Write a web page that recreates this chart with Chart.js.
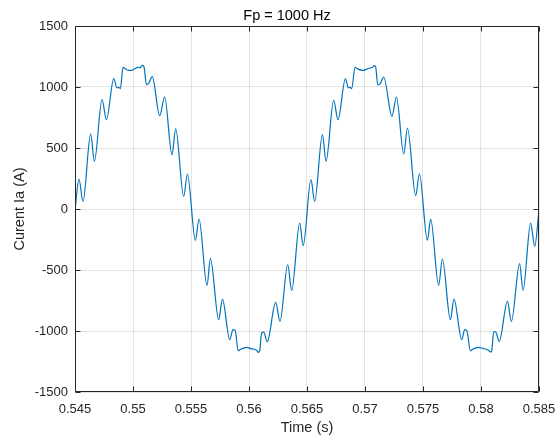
<!DOCTYPE html>
<html>
<head>
<meta charset="utf-8">
<script src="https://cdn.jsdelivr.net/npm/chart.js@4"></script>
<style>
  html, body { margin: 0; padding: 0; background: #fff; }
  #wrap { width: 556px; height: 438px; }
</style>
</head>
<body>
<div id="wrap"><canvas id="chart" width="556" height="438"></canvas></div>
<script>
// values
var timeS = [
    0.54500, 0.54534, 0.54569, 0.54635, 0.54667, 0.54733, 0.54771, 0.54834,
    0.54862, 0.54877, 0.54891,
    0.54914, 0.54934, 0.54957, 0.54986, 0.55015, 0.55043, 0.55060, 0.55081, 0.55095,
    0.55116, 0.55135, 0.55166,
    0.55230, 0.55273, 0.55336, 0.55368, 0.55437, 0.55469, 0.55538, 0.55569, 0.55638, 0.55667, 0.55739, 0.55771, 0.55834,
    0.55862, 0.55881,
    0.55907, 0.55928, 0.55954, 0.55984, 0.56015, 0.56045, 0.56066, 0.56081, 0.56092,
    0.56109, 0.56127, 0.56157,
    0.56230, 0.56267, 0.56334, 0.56368, 0.56437, 0.56467,
    0.56534, 0.56566, 0.56633, 0.56664, 0.56730, 0.56767, 0.56831,
    0.56857, 0.56871, 0.56885, 0.56914, 0.56934, 0.56957, 0.56986, 0.57015, 0.57043, 0.57062, 0.57081, 0.57092,
    0.57110, 0.57131, 0.57161,
    0.57233, 0.57271, 0.57334, 0.57366, 0.57437, 0.57469, 0.57538, 0.57566, 0.57635, 0.57667, 0.57736, 0.57767, 0.57834,
    0.57860, 0.57877, 0.57909, 0.57928, 0.57954, 0.57984, 0.58015, 0.58045, 0.58066, 0.58081, 0.58092,
    0.58110, 0.58127, 0.58157,
    0.58228, 0.58262, 0.58333, 0.58362, 0.58428, 0.58463, 0.58500
];

var currentA = [
    -10, 246, 62, 615, 390, 896, 732, 1068,
    992, 998, 986,
    1161, 1150, 1136, 1136, 1150, 1161, 1158, 1177, 1165,
    1020, 1030, 1085,
    765, 918, 445, 656, 103, 287, -257, -82, -626, -405, -908, -738, -1071,
    -989, -995,
    -1162, -1150, -1140, -1135, -1145, -1150, -1160, -1175, -1165,
    -1016, -1010, -1088,
    -766, -921, -457, -667, -115, -300,
    240, 62, 609, 390, 890, 732, 1066,
    992, 998, 986, 1161, 1150, 1140, 1136, 1147, 1156, 1160, 1175, 1165,
    1018, 1028, 1082,
    759, 918, 451, 664, 109, 289, -257, -82, -626, -410, -908, -738, -1071,
    -989, -995, -1162, -1150, -1140, -1135, -1143, -1150, -1160, -1172, -1165,
    -1005, -1008, -1085,
    -757, -921, -448, -667, -115, -306, -10
];

var xTicks = [0.545, 0.55, 0.555, 0.56, 0.565, 0.57, 0.575, 0.58, 0.585];
var xTickLabels = ['0.545', '0.55', '0.555', '0.56', '0.565', '0.57', '0.575', '0.58', '0.585'];
var yTicks = [-1500, -1000, -500, 0, 500, 1000, 1500];
var yTickLabels = ['-1500', '-1000', '-500', '0', '500', '1000', '1500'];

var titleText = 'Fp = 1000 Hz';
var xTitle = 'Time (s)';
var yTitle = 'Curent Ia (A)';

var axisColor = '#262626';
var FONT = '"Liberation Sans", Arial, Helvetica, sans-serif';

// MATLAB-like box with inward ticks, plus the title
var boxPlugin = {
    id: 'matlabBox',
    afterDraw: function (chart) {
        var ctx = chart.ctx;
        var a = chart.chartArea;
        var xs = chart.scales.x, ys = chart.scales.y;
        var len = 5;
        ctx.save();
        ctx.strokeStyle = axisColor;
        ctx.lineWidth = 1;
        ctx.beginPath();
        var L = Math.round(a.left) + 0.5, R = Math.round(a.right) - 0.5;
        var T = Math.round(a.top) + 0.5, B = Math.round(a.bottom) - 0.5;
        ctx.rect(L, T, R - L, B - T);
        xTicks.forEach(function (v) {
            var px = Math.round(xs.getPixelForValue(v)) + 0.5;
            ctx.moveTo(px, B); ctx.lineTo(px, B - len);
            ctx.moveTo(px, T); ctx.lineTo(px, T + len);
        });
        yTicks.forEach(function (v) {
            var py = Math.round(ys.getPixelForValue(v)) + 0.5;
            ctx.moveTo(L, py); ctx.lineTo(L + len, py);
            ctx.moveTo(R, py); ctx.lineTo(R - len, py);
        });
        ctx.stroke();

        ctx.fillStyle = '#000';
        ctx.font = '14.5px ' + FONT;
        ctx.textAlign = 'center';
        ctx.textBaseline = 'middle';
        ctx.fillText(titleText, 287, 16);
        ctx.restore();
    }
};

var points = timeS.map(function (t, i) { return { x: t, y: currentA[i] }; });

new Chart(document.getElementById('chart'), {
    type: 'line',
    data: {
        datasets: [{
            data: points,
            borderColor: '#0072BD',
            borderWidth: 1.2,
            pointRadius: 0,
            fill: false,
            cubicInterpolationMode: 'monotone'
        }]
    },
    options: {
        responsive: false,
        animation: false,
        events: [],
        layout: { padding: { left: 4, right: 17, top: 26, bottom: 1 } },
        plugins: {
            legend: { display: false },
            tooltip: { enabled: false }
        },
        scales: {
            x: {
                type: 'linear',
                min: 0.545,
                max: 0.585,
                afterBuildTicks: function (scale) {
                    scale.ticks = xTicks.map(function (v) { return { value: v }; });
                },
                afterFit: function (scale) {
                    scale.height = 45;
                    scale.paddingLeft = 0; scale.paddingRight = 0;
                },
                grid: { color: 'rgba(38,38,38,0.13)', drawTicks: false },
                border: { display: false },
                ticks: {
                    color: axisColor,
                    font: { family: FONT, size: 13 },
                    padding: 10,
                    maxRotation: 0,
                    autoSkip: false,
                    callback: function (v, i) { return xTickLabels[i]; }
                },
                title: {
                    display: true,
                    text: xTitle,
                    color: axisColor,
                    font: { family: FONT, size: 14.5 },
                    padding: { top: 0, bottom: 0 }
                }
            },
            y: {
                type: 'linear',
                min: -1500,
                max: 1500,
                afterBuildTicks: function (scale) {
                    scale.ticks = yTicks.map(function (v) { return { value: v }; });
                },
                afterFit: function (scale) {
                    scale.width = 71;
                    scale.paddingTop = 0; scale.paddingBottom = 0;
                },
                grid: { color: 'rgba(38,38,38,0.13)', drawTicks: false },
                border: { display: false },
                ticks: {
                    color: axisColor,
                    font: { family: FONT, size: 13 },
                    padding: 7,
                    autoSkip: false,
                    callback: function (v, i) { return yTickLabels[i]; }
                },
                title: {
                    display: true,
                    text: yTitle,
                    color: axisColor,
                    font: { family: FONT, size: 14.5 },
                    padding: { top: 7, bottom: 0 }
                }
            }
        }
    },
    plugins: [boxPlugin]
});
</script>
</body>
</html>
